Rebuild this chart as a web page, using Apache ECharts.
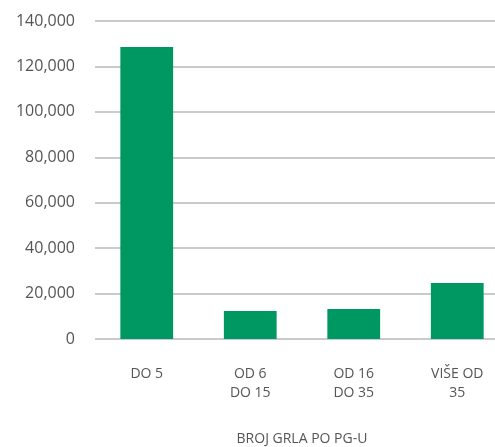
<!DOCTYPE html>
<html>
<head>
<meta charset="utf-8">
<script src="https://cdn.jsdelivr.net/npm/echarts@6/dist/echarts.min.js"></script>
<style>
  html, body { margin: 0; padding: 0; background: #fff; }
  #chart { width: 495px; height: 447px; }
</style>
</head>
<body>
<div id="chart"></div>
<script>
// kategorije (broj grla po PG-u)
const categories = ['DO 5', 'OD 6\nDO 15', 'OD 16\nDO 35', 'VIŠE OD\n35']
// vrijednosti stupaca
const values = [128500, 12300, 13200, 24700]
// y os
const yMin = 0
const yMax = 140000
const yStep = 20000

const chart = echarts.init(document.getElementById('chart'))

const option = {
  animation: false,
  textStyle: { fontFamily: 'Open Sans, Liberation Sans, sans-serif' },
  grid: {
    left: 95,
    right: -14,
    top: 21,
    bottom: 108,
    containLabel: false,
    outerBoundsMode: 'none'
  },
  xAxis: {
    type: 'category',
    data: categories,
    name: 'BROJ GRLA PO PG-U',
    nameLocation: 'middle',
    nameGap: 92,
    nameTextStyle: { color: '#555', fontSize: 14, lineHeight: 16 },
    axisLine: { show: false },
    axisTick: { show: false },
    axisLabel: {
      color: '#555',
      fontSize: 14,
      margin: 26,
      lineHeight: 19
    }
  },
  yAxis: {
    type: 'value',
    min: yMin,
    max: yMax,
    interval: yStep,
    axisLine: { show: false },
    axisTick: { show: false },
    splitLine: { lineStyle: { color: '#b8b8b8', width: 1.5 } },
    axisLabel: {
      color: '#555',
      fontSize: 16,
      margin: 20,
      formatter: v => v.toLocaleString('en-US')
    }
  },
  series: [{
    type: 'bar',
    data: values,
    barWidth: '51%',
    itemStyle: { color: '#009862' }
  }]
}

chart.setOption(option)
</script>
</body>
</html>
